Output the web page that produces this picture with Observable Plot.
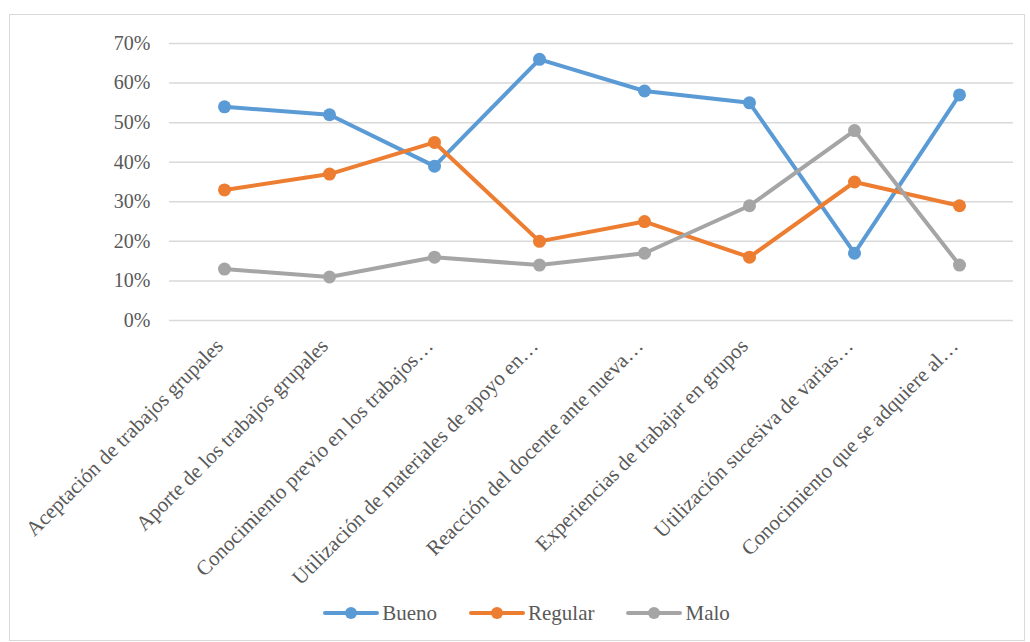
<!DOCTYPE html>
<html>
<head>
<meta charset="utf-8">
<script src="https://cdn.jsdelivr.net/npm/d3@7"></script>
<script src="https://cdn.jsdelivr.net/npm/@observablehq/plot@0.6"></script>
<style>
  html, body { margin: 0; padding: 0; background: #fff; }
  body { width: 1030px; height: 642px; position: relative; overflow: hidden; font-family: "Liberation Serif", "Times New Roman", Times, serif; }
  #frame { position: absolute; left: 9px; top: 14px; width: 1016px; height: 627px; border: 1px solid #d9d9d9; box-sizing: border-box; }
  #chart { position: absolute; left: 0; top: 0; }
  #chart svg, #chart svg text { font-family: "Liberation Serif", "Times New Roman", Times, serif !important; }
  #legend { position: absolute; left: 0; top: 587px; width: 100%; box-sizing: border-box; padding-left: 18px; display: flex; justify-content: center; align-items: center; gap: 31px; font-size: 21px; color: #595959; line-height: 22px; }
  .item { display: flex; align-items: center; }
  .item svg { margin-right: 2px; }
</style>
</head>
<body>
<div id="frame">
  <div id="chart"></div>
  <div id="legend"></div>
</div>
<script>
const categories = [
  "Aceptación de trabajos grupales",
  "Aporte de los trabajos grupales",
  "Conocimiento previo en los trabajos…",
  "Utilización de materiales de apoyo en…",
  "Reacción del docente ante nueva…",
  "Experiencias de trabajar en grupos",
  "Utilización sucesiva de varias…",
  "Conocimiento que se adquiere al…"
];
const seriesNames = ["Bueno", "Regular", "Malo"];
const bueno   = [0.54, 0.52, 0.39, 0.66, 0.58, 0.55, 0.17, 0.57];
const regular = [0.33, 0.37, 0.45, 0.20, 0.25, 0.16, 0.35, 0.29];
const malo    = [0.13, 0.11, 0.16, 0.14, 0.17, 0.29, 0.48, 0.14];
const yTicks  = [0, 0.1, 0.2, 0.3, 0.4, 0.5, 0.6, 0.7];
const colors  = ["#5B9BD5", "#ED7D31", "#A5A5A5"];

const seriesValues = [bueno, regular, malo];
const data = seriesNames.flatMap((s, si) =>
  categories.map((c, i) => ({ serie: s, categoria: c, valor: seriesValues[si][i] }))
);

const chart = Plot.plot({
  width: 1014,
  height: 574,
  marginLeft: 159,
  marginRight: 11,
  marginTop: 28,
  marginBottom: 269,
  style: { fontSize: "20px", color: "#595959", background: "transparent" },
  x: { type: "point", domain: categories, padding: 0.5, label: null },
  y: { domain: [0, 0.7], label: null },
  color: { domain: seriesNames, range: colors },
  marks: [
    Plot.gridY(yTicks, { stroke: "#d9d9d9", strokeOpacity: 1, strokeWidth: 1.5 }),
    Plot.axisY(yTicks, { tickSize: 0, tickPadding: 19, tickFormat: d3.format(".0%"), fontSize: 20, label: null }),
    Plot.axisX({ tickSize: 0, tickRotate: -45, tickPadding: 4, dx: -5, dy: 18, fontSize: 21, label: null }),
    Plot.line(data, { x: "categoria", y: "valor", z: "serie", stroke: "serie", strokeWidth: 4, strokeLinejoin: "round", strokeLinecap: "round" }),
    Plot.dot(data, { x: "categoria", y: "valor", fill: "serie", r: 6.5 })
  ]
});
document.getElementById("chart").appendChild(chart);

const legend = document.getElementById("legend");
seriesNames.forEach((s, i) => {
  const item = document.createElement("div");
  item.className = "item";
  item.innerHTML = `<svg width="58" height="14"><line x1="3" y1="7" x2="55" y2="7" stroke="${colors[i]}" stroke-width="4" stroke-linecap="round"/><circle cx="29" cy="7" r="6" fill="${colors[i]}"/></svg><span>${s}</span>`;
  legend.appendChild(item);
});
</script>
</body>
</html>
